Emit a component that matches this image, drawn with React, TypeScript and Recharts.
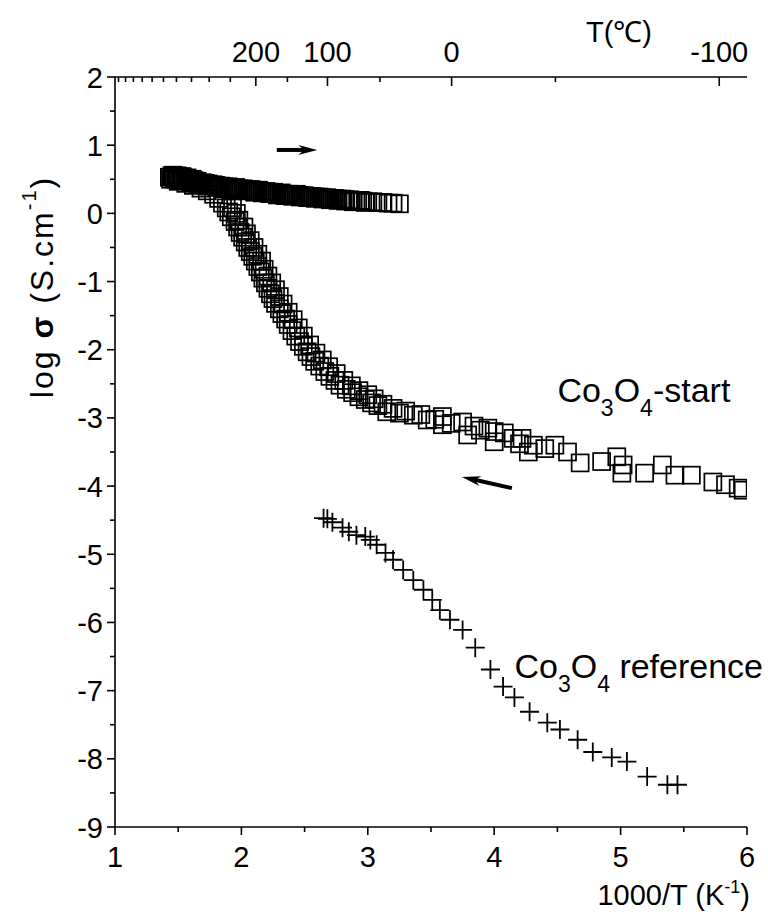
import React from 'react';
import {
  ScatterChart,
  Scatter,
  XAxis,
  YAxis,
  ReferenceLine,
  ReferenceDot,
} from 'recharts';

// Co3O4-start, heating run (upper branch)
const heatPts: [number, number][] = [
  [1.43, 0.53], [1.45, 0.55], [1.47, 0.52], [1.49, 0.55], [1.51, 0.51], [1.53, 0.54],
  [1.55, 0.5], [1.57, 0.52], [1.59, 0.49], [1.61, 0.5], [1.63, 0.46], [1.65, 0.47],
  [1.67, 0.44], [1.69, 0.45], [1.71, 0.42], [1.74, 0.43], [1.77, 0.41], [1.8, 0.41],
  [1.83, 0.39], [1.86, 0.39], [1.89, 0.38], [1.92, 0.37], [1.95, 0.37], [1.98, 0.36],
  [2.01, 0.35], [2.04, 0.35], [2.07, 0.34], [2.1, 0.33], [2.13, 0.33], [2.16, 0.32],
  [2.19, 0.31], [2.22, 0.31], [2.25, 0.3], [2.28, 0.29], [2.31, 0.29], [2.34, 0.28],
  [2.37, 0.28], [2.4, 0.27], [2.43, 0.27], [2.46, 0.26], [2.49, 0.25], [2.52, 0.25],
  [2.55, 0.24], [2.58, 0.24], [2.61, 0.23], [2.64, 0.23], [2.67, 0.22], [2.7, 0.22],
  [2.73, 0.21], [2.76, 0.21], [2.79, 0.2], [2.82, 0.2], [2.85, 0.19], [2.88, 0.19],
  [2.92, 0.18], [2.96, 0.18], [3.0, 0.17], [3.04, 0.17], [3.08, 0.16], [3.12, 0.16],
  [3.16, 0.15], [3.2, 0.15], [3.25, 0.14],
  [1.44, 0.5], [1.46, 0.56], [1.48, 0.5], [1.5, 0.54], [1.52, 0.49], [1.54, 0.52],
  [1.56, 0.48], [1.58, 0.5], [1.6, 0.46], [1.625, 0.48], [1.655, 0.44], [1.685, 0.42],
  [1.715, 0.44], [1.745, 0.4], [1.775, 0.42], [1.805, 0.38], [1.835, 0.4], [1.865, 0.36],
  [1.895, 0.39], [1.925, 0.35], [1.955, 0.38], [1.985, 0.34], [2.015, 0.36], [2.045, 0.33],
  [2.075, 0.35], [2.105, 0.31], [2.135, 0.34], [2.165, 0.3], [2.195, 0.32], [2.225, 0.29],
  [2.255, 0.31], [2.285, 0.27], [2.315, 0.3], [2.345, 0.26], [2.375, 0.28], [2.405, 0.25],
  [2.435, 0.28], [2.465, 0.24], [2.495, 0.26], [2.525, 0.23], [2.555, 0.25], [2.585, 0.22],
  [2.615, 0.24], [2.645, 0.21], [2.675, 0.23], [2.705, 0.2], [2.735, 0.22], [2.765, 0.19],
  [2.795, 0.21], [2.825, 0.18], [2.855, 0.2], [2.885, 0.17], [2.94, 0.19], [2.98, 0.16],
];

// Co3O4-start, cooling run (lower branch)
const coolPts: [number, number][] = [
  [1.5, 0.47], [1.56, 0.44], [1.62, 0.41], [1.68, 0.37], [1.73, 0.33], [1.78, 0.28],
  [1.82, 0.22], [1.85, 0.15], [1.88, 0.08], [1.9, 0.02], [1.92, -0.05], [1.95, -0.12],
  [1.97, -0.2], [1.99, -0.28], [2.01, -0.35], [2.03, -0.42], [2.05, -0.5], [2.07, -0.56],
  [2.09, -0.63], [2.11, -0.7], [2.13, -0.78], [2.15, -0.86], [2.17, -0.95], [2.19, -1.02],
  [2.21, -1.1], [2.23, -1.18], [2.25, -1.25], [2.27, -1.32], [2.3, -1.4], [2.32, -1.47],
  [2.35, -1.55], [2.37, -1.63], [2.4, -1.72], [2.43, -1.8], [2.46, -1.88], [2.49, -1.95],
  [2.52, -2.03], [2.55, -2.1], [2.58, -2.17], [2.62, -2.24], [2.66, -2.32], [2.7, -2.39],
  [2.74, -2.45], [2.78, -2.52], [2.83, -2.58], [2.88, -2.63], [2.93, -2.69], [2.98, -2.73],
  [3.03, -2.78], [3.08, -2.82],
  [1.93, 0.08], [1.96, 0.0], [1.98, -0.1], [2.02, -0.2], [2.04, -0.3], [2.07, -0.4],
  [2.1, -0.5], [2.13, -0.6], [2.16, -0.7], [2.18, -0.82], [2.21, -0.92], [2.24, -1.02],
  [2.27, -1.12], [2.3, -1.22], [2.33, -1.33], [2.37, -1.45], [2.41, -1.56], [2.45, -1.68],
  [2.49, -1.8], [2.54, -1.93], [2.59, -2.05], [2.64, -2.15], [2.69, -2.25], [2.75, -2.35],
  [2.81, -2.45], [2.87, -2.53], [2.93, -2.6], [3.0, -2.66], [3.05, -2.72],
  [3.15, -2.91], [3.25, -2.93], [3.36, -2.96], [3.47, -3.03], [3.59, -2.98], [3.59, -3.1],
  [3.75, -3.06], [3.79, -3.25], [3.89, -3.18], [4.0, -3.35], [4.0, -3.2], [4.15, -3.3],
  [4.27, -3.5], [4.31, -3.4], [4.48, -3.4], [4.58, -3.5], [4.68, -3.66], [4.85, -3.64],
  [4.97, -3.57], [5.01, -3.81], [5.02, -3.69], [5.19, -3.81], [5.33, -3.69], [5.43, -3.84],
  [5.56, -3.84], [5.73, -3.94], [5.83, -3.98], [5.93, -4.03], [5.97, -4.06],
  [3.12, -2.8], [3.2, -2.86], [3.3, -2.9], [3.42, -2.95], [3.53, -3.02], [3.66, -3.08],
  [3.84, -3.12], [3.95, -3.15], [4.08, -3.22], [4.22, -3.3], [4.4, -3.45], [4.2, -3.38],
];

// Co3O4 reference
const refPts: [number, number][] = [
  [2.65, -4.47], [2.68, -4.48], [2.72, -4.53], [2.8, -4.61], [2.85, -4.67], [2.91, -4.72],
  [2.98, -4.74], [3.02, -4.79], [3.07, -4.86], [3.14, -4.98], [3.2, -5.08], [3.28, -5.23],
  [3.36, -5.38], [3.44, -5.52], [3.51, -5.67], [3.57, -5.82], [3.65, -5.96], [3.75, -6.11],
  [3.85, -6.37], [3.97, -6.69], [4.07, -6.94], [4.16, -7.1], [4.28, -7.31], [4.42, -7.47],
  [4.52, -7.57], [4.66, -7.72], [4.78, -7.9], [4.93, -7.98], [5.05, -8.04], [5.21, -8.26],
  [5.37, -8.38], [5.45, -8.38],
];

const xTicks = [1, 1.5, 2, 2.5, 3, 3.5, 4, 4.5, 5, 5.5, 6];
const yTicks = [-9, -8.5, -8, -7.5, -7, -6.5, -6, -5.5, -5, -4.5, -4, -3.5, -3, -2.5, -2, -1.5, -1, -0.5, 0, 0.5, 1, 1.5, 2];
const topTemps = [700, 650, 600, 550, 500, 450, 400, 350, 300, 250, 200, 150, 100, 50, 0, -50, -100];
const topLabeled = [200, 100, 0, -100];
const topTicks = topTemps.map((t) => 1000 / (t + 273));

const FONT = '"Liberation Sans", Arial, Helvetica, sans-serif';
const FS = 29;
const NOTE_FS = 34;

const toPts = (arr: [number, number][]) => arr.map(([x, y]) => ({ x, y }));

const Square = (p: any) => (
  <rect x={p.cx - 8.5} y={p.cy - 8.5} width={17} height={17} fill="none" stroke="#000" strokeWidth={1.7} />
);

const Plus = (p: any) => (
  <path
    d={`M${p.cx - 9.5},${p.cy}H${p.cx + 9.5}M${p.cx},${p.cy - 9.5}V${p.cy + 9.5}`}
    stroke="#000"
    strokeWidth={1.8}
    fill="none"
  />
);

const Hidden = () => <g />;

const BottomTick = (p: any) => {
  const v = p.payload.value;
  const major = Number.isInteger(v);
  return (
    <g>
      <line x1={p.x} y1={p.y} x2={p.x} y2={p.y + (major ? 8 : 5)} stroke="#000" strokeWidth={1.6} />
      {major && (
        <text x={p.x} y={p.y + 40} textAnchor="middle" fontSize={FS} fontFamily={FONT} fill="#000">
          {v}
        </text>
      )}
    </g>
  );
};

const LeftTick = (p: any) => {
  const v = p.payload.value;
  const major = Number.isInteger(v);
  return (
    <g>
      <line x1={p.x} y1={p.y} x2={p.x - (major ? 8 : 5)} y2={p.y} stroke="#000" strokeWidth={1.6} />
      {major && (
        <text x={p.x - 12} y={p.y + 10.5} textAnchor="end" fontSize={FS} fontFamily={FONT} fill="#000">
          {v}
        </text>
      )}
    </g>
  );
};

const TopTick = (p: any) => {
  const t = Math.round(1000 / p.payload.value - 273);
  const major = topLabeled.includes(t);
  return (
    <g>
      <line x1={p.x} y1={p.y} x2={p.x} y2={p.y + (major ? 9 : 5)} stroke="#000" strokeWidth={1.6} />
      {major && (
        <text x={p.x} y={p.y - 15} textAnchor="middle" fontSize={FS} fontFamily={FONT} fill="#000">
          {t}
        </text>
      )}
    </g>
  );
};

const Arrow = (p: any) => {
  const { x1, y1, x2, y2 } = p;
  const a = Math.atan2(y2 - y1, x2 - x1);
  const len = 19;
  const hw = 5;
  const bx = x2 - len * Math.cos(a);
  const by = y2 - len * Math.sin(a);
  const nx = -Math.sin(a) * hw;
  const ny = Math.cos(a) * hw;
  const mx = bx + Math.cos(a) * 6;
  const my = by + Math.sin(a) * 6;
  return (
    <g>
      <line x1={x1} y1={y1} x2={mx} y2={my} stroke="#000" strokeWidth={4} />
      <polygon points={`${x2},${y2} ${bx + nx},${by + ny} ${mx},${my} ${bx - nx},${by - ny}`} fill="#000" />
    </g>
  );
};

const Formula = ({ x, y, rest }: { x: number; y: number; rest: string }) => (
  <text x={x} y={y} fontSize={NOTE_FS} fontFamily={FONT} fill="#000">
    Co
    <tspan dy={14} fontSize={23}>3</tspan>
    <tspan dy={-14}>O</tspan>
    <tspan dy={14} fontSize={23}>4</tspan>
    <tspan dy={-14}>{rest}</tspan>
  </text>
);

export default function App() {
  return (
    <div style={{ position: 'absolute', left: 0, top: 0, width: 768, height: 915, background: '#fff' }}>
      <ScatterChart width={768} height={915} margin={{ top: 0, right: 21, bottom: 0, left: 0 }}>
        <XAxis
          xAxisId="bottom"
          dataKey="x"
          type="number"
          domain={[1, 6]}
          allowDataOverflow
          ticks={xTicks}
          interval={0}
          height={88}
          tickSize={0}
          tickMargin={0}
          tickLine={false}
          axisLine={{ stroke: '#000', strokeWidth: 1.6 }}
          tick={BottomTick}
          label={{
            content: () => (
              <text x={750} y={905} textAnchor="end" fontSize={FS} fontFamily={FONT} fill="#000">
                1000/T (K
                <tspan dy={-12} fontSize={18}>-1</tspan>
                <tspan dy={12}>)</tspan>
              </text>
            ),
          }}
        />
        <XAxis
          xAxisId="top"
          dataKey="x"
          orientation="top"
          type="number"
          domain={[1, 6]}
          allowDataOverflow
          ticks={topTicks}
          interval={0}
          height={77}
          tickSize={0}
          tickMargin={0}
          tickLine={false}
          axisLine={{ stroke: '#000', strokeWidth: 1.6 }}
          tick={TopTick}
          label={{
            content: () => (
              <text x={619} y={42} textAnchor="middle" fontSize={FS} fontFamily={FONT} fill="#000">
                T(℃)
              </text>
            ),
          }}
        />
        <YAxis
          dataKey="y"
          type="number"
          domain={[-9, 2]}
          allowDataOverflow
          ticks={yTicks}
          interval={0}
          width={115}
          tickSize={0}
          tickMargin={0}
          tickLine={false}
          axisLine={{ stroke: '#000', strokeWidth: 1.6 }}
          tick={LeftTick}
          label={{
            content: () => (
              <text
                x={42}
                y={287}
                transform="rotate(-90, 42, 287)"
                textAnchor="middle"
                dominantBaseline="central"
                fontSize={32}
                letterSpacing={2}
                fontFamily={FONT}
                fill="#000"
              >
                log <tspan fontWeight="bold">σ</tspan> (S.cm
                <tspan dy={-13} fontSize={20}>-1</tspan>
                <tspan dy={13}>)</tspan>
              </text>
            ),
          }}
        />
        <Scatter xAxisId="top" data={toPts(refPts)} shape={Hidden} isAnimationActive={false} />
        <Scatter xAxisId="bottom" data={toPts(coolPts)} shape={Square} isAnimationActive={false} />
        <Scatter xAxisId="bottom" data={toPts(heatPts)} shape={Square} isAnimationActive={false} />
        <Scatter xAxisId="bottom" data={toPts(refPts)} shape={Plus} isAnimationActive={false} />
        <ReferenceLine
          xAxisId="bottom"
          segment={[{ x: 2.28, y: 0.93 }, { x: 2.6, y: 0.93 }]}
          shape={Arrow}
        />
        <ReferenceLine
          xAxisId="bottom"
          segment={[{ x: 4.14, y: -4.03 }, { x: 3.745, y: -3.865 }]}
          shape={Arrow}
        />
        <ReferenceDot
          xAxisId="bottom"
          x={4.5}
          y={-2.77}
          r={0}
          shape={(p: any) => <Formula x={p.cx} y={p.cy} rest="-start" />}
        />
        <ReferenceDot
          xAxisId="bottom"
          x={4.16}
          y={-6.81}
          r={0}
          shape={(p: any) => <Formula x={p.cx} y={p.cy} rest=" reference" />}
        />
      </ScatterChart>
    </div>
  );
}
